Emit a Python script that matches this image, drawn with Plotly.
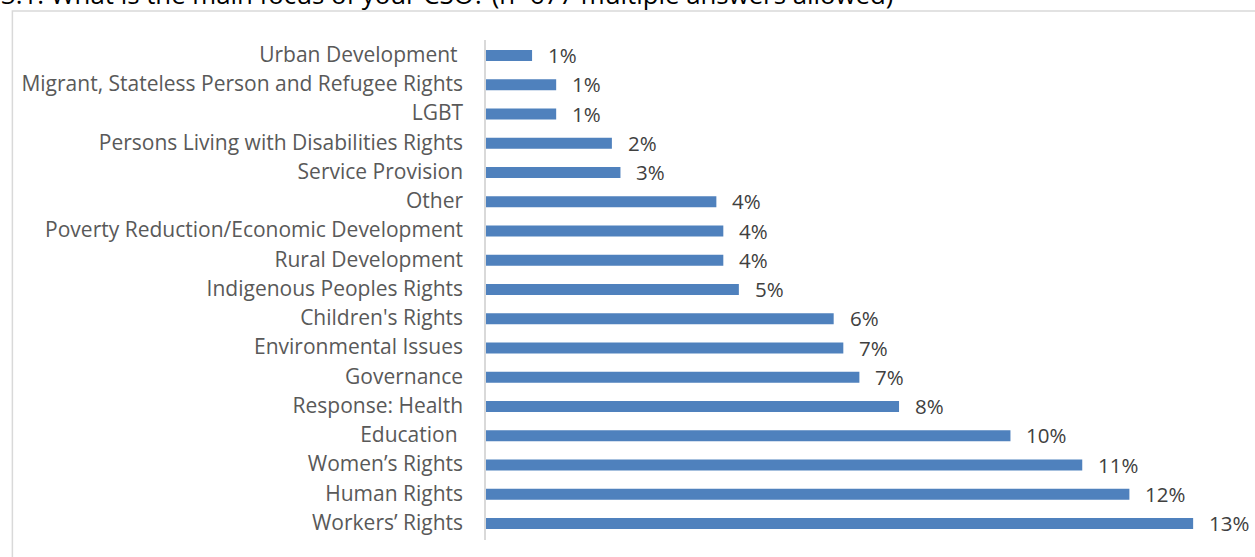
import plotly.graph_objects as go

# Main focus areas of CSOs, listed top to bottom, share of responses in percent
categories = [
    "Urban Development\u00a0",
    "Migrant, Stateless Person and Refugee Rights",
    "LGBT",
    "Persons Living with Disabilities Rights",
    "Service Provision",
    "Other",
    "Poverty Reduction/Economic Development",
    "Rural Development",
    "Indigenous Peoples Rights",
    "Children's Rights",
    "Environmental Issues",
    "Governance",
    "Response: Health",
    "Education\u00a0",
    "Women\u2019s Rights",
    "Human Rights",
    "Workers\u2019 Rights",
]
shares = [0.86, 1.31, 1.31, 2.35, 2.51, 4.30, 4.43, 4.43, 4.72,
          6.49, 6.67, 6.97, 7.71, 9.79, 11.13, 12.01, 13.20]

title_text = "3.1. What is the main focus of your CSO? (n=677 multiple answers allowed)"

BAR_BLUE = "#4F81BD"
FONT = "Open Sans"

fig = go.Figure(
    go.Bar(
        x=shares,
        y=categories,
        orientation="h",
        marker=dict(color=BAR_BLUE, line=dict(width=0)),
        width=0.37,
        hoverinfo="skip",
    )
)

# Value labels to the right of each bar
for cat, val in zip(categories, shares):
    fig.add_annotation(
        x=val, y=cat, xref="x", yref="y",
        text=f"{val:.0f}%",
        showarrow=False, xanchor="left", yanchor="middle",
        xshift=14, yshift=0.5,
        font=dict(family=FONT, size=20.5, color="#404040"),
    )

# Question title sitting above the chart frame
fig.add_annotation(
    x=0, y=1, xref="paper", yref="paper",
    text=title_text, showarrow=False,
    xanchor="left", yanchor="bottom",
    xshift=-487, yshift=26,
    font=dict(family=FONT, size=25.8, color="#000000"),
)

# Light grey chart frame
fig.add_shape(
    type="rect", xref="paper", yref="paper",
    x0=-0.6315, x1=1.1, y0=-0.1, y1=1.058,
    line=dict(color="#D9D9D9", width=1.5),
    fillcolor="rgba(0,0,0,0)", layer="below",
)

fig.update_layout(
    width=1255, height=557,
    margin=dict(l=486, r=19, t=40, b=17),
    paper_bgcolor="white", plot_bgcolor="white",
    showlegend=False,
    bargap=0.63,
    xaxis=dict(range=[0, 14], visible=False, fixedrange=True),
    yaxis=dict(
        autorange="reversed",
        showline=True, linecolor="#D9D9D9", linewidth=1.5,
        showgrid=False, zeroline=False,
        ticks="", ticklabelstandoff=17, ticklabelshift=1,
        tickfont=dict(family=FONT, size=21, color="#595959"),
        fixedrange=True,
    ),
)

fig.write_html("out.html")
